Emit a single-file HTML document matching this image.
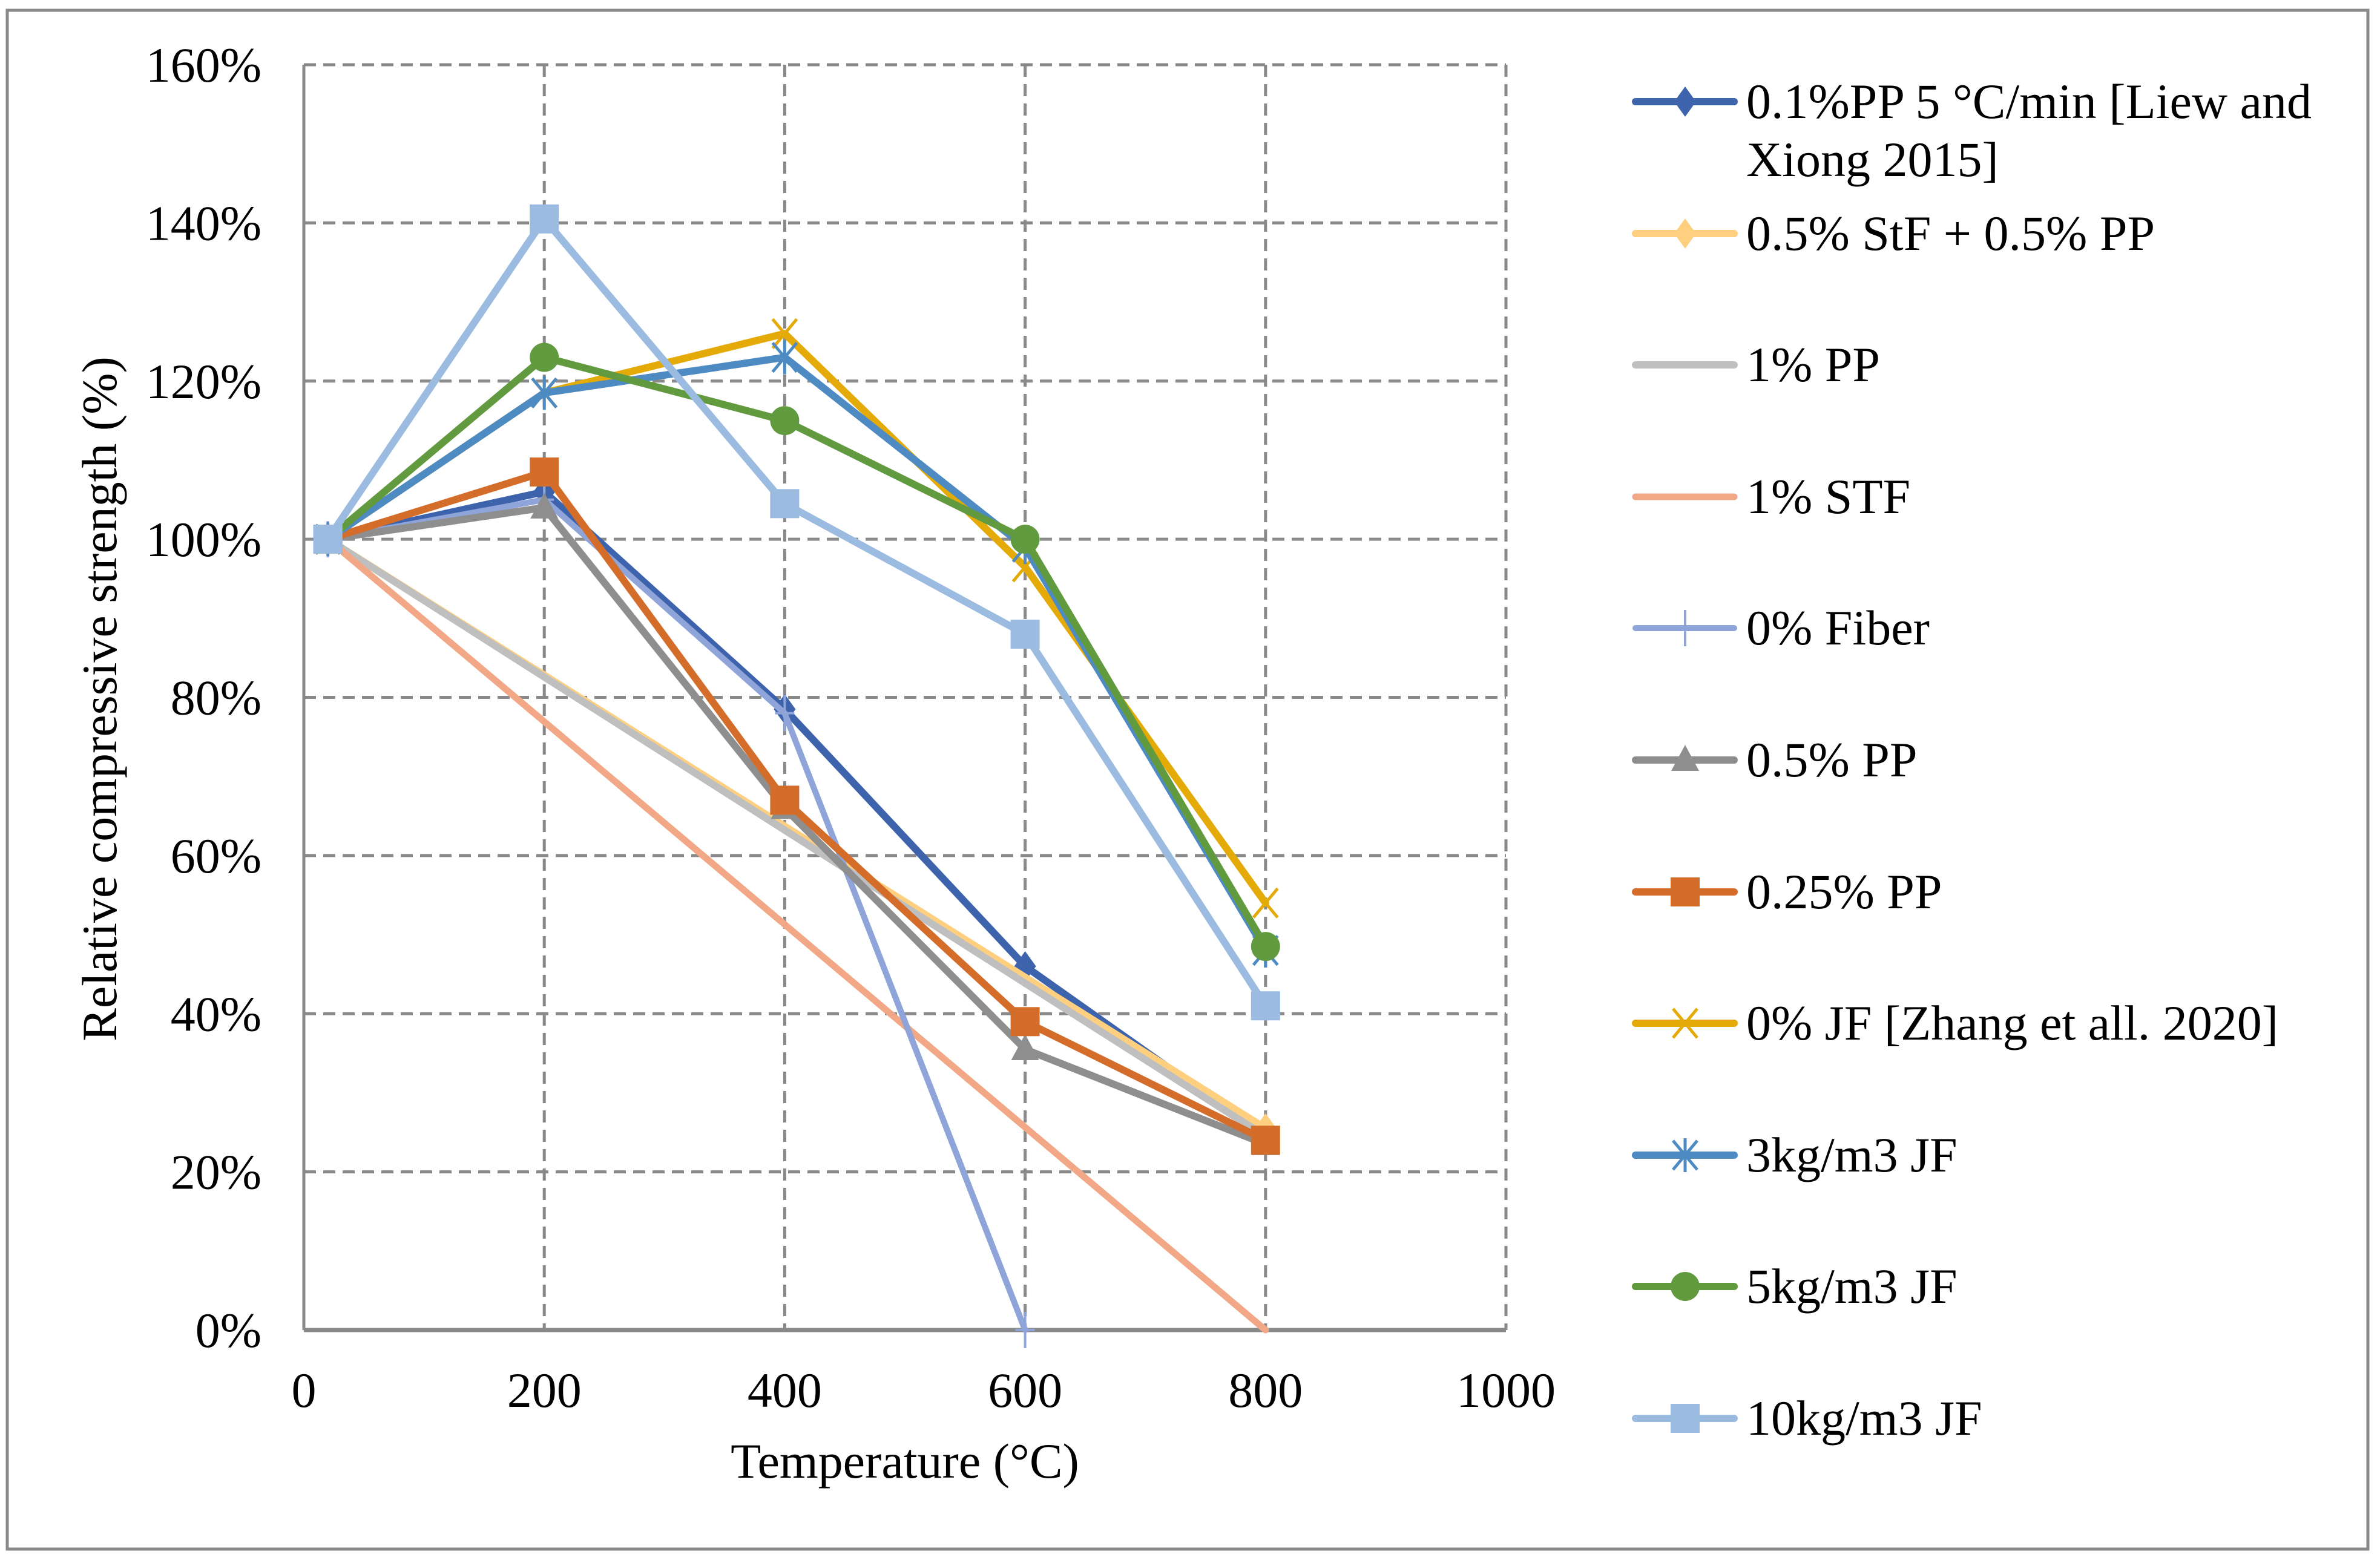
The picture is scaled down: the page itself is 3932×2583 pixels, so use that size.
<!DOCTYPE html>
<html><head><meta charset="utf-8"><style>
html,body{margin:0;padding:0;background:#fff;}
svg{display:block;font-family:"Liberation Serif","Times New Roman",serif;}
</style></head><body>
<svg id="chart" xmlns="http://www.w3.org/2000/svg" width="3932" height="2583" viewBox="0 0 3932 2583">
<rect x="12" y="17" width="3900" height="2543" fill="#fff" stroke="#898989" stroke-width="5"/>
<g id="grid"></g>
<g id="axes"></g>
<g id="series"></g>
<g id="legend"></g>
<text x="1495" y="2442" font-size="82" text-anchor="middle">Temperature (°C)</text>
<text transform="translate(192,1155) rotate(-90)" font-size="82" text-anchor="middle">Relative compressive strength (%)</text>
</svg>
<script>
const xTicks = [0, 200, 400, 600, 800, 1000];
const yTicks = [0, 20, 40, 60, 80, 100, 120, 140, 160];
const seriesNames = ["0.1%PP 5 °C/min [Liew and Xiong 2015]", "0.5% StF + 0.5% PP", "1% PP", "1% STF", "0% Fiber", "0.5% PP", "0.25% PP", "0% JF [Zhang et all. 2020]", "3kg/m3 JF", "5kg/m3 JF", "10kg/m3 JF"];
const tempsFull = [20, 200, 400, 600, 800];
const tempsEnds = [20, 800];
const tempsFiber = [20, 200, 400, 600];
const tempsStf = [20, 800];
const s01PP = [100, 106, 78.5, 46, 24.5];
const sStfPP = [100, 25.5];
const s1PP = [100, 24.5];
const s1STF = [100, 0];
const s0Fiber = [100, 105, 78, 0];
const s05PP = [100, 104, 66, 35.5, 23.5];
const s025PP = [100, 108.5, 67, 39, 24];
const s0JF = [100, 118.5, 126, 96.5, 54];
const s3JF = [100, 118.5, 123, 99, 48];
const s5JF = [100, 123, 115, 100, 48.5];
const s10JF = [100, 140.5, 104.5, 88, 41];

const NS = "http://www.w3.org/2000/svg";
const X0 = 502, X1 = 2488, Y0 = 2198, Y1 = 107;
function xs(v){ return X0 + (v/1000)*(X1-X0); }
function ys(v){ return Y0 - (v/160)*(Y0-Y1); }
function mk(tag, attrs, parent){ const e=document.createElementNS(NS,tag); for(const k in attrs) e.setAttribute(k,attrs[k]); parent.appendChild(e); return e; }

const grid=document.getElementById('grid'), axes=document.getElementById('axes'), ser=document.getElementById('series'), leg=document.getElementById('legend');
yTicks.forEach(t=>{
  if(t>0){ const l=mk('line',{x1:X0,x2:X1,y1:ys(t),y2:ys(t),stroke:'#898989','stroke-width':5,'stroke-dasharray':'20,12'},grid);
    
     }
  const tx=mk('text',{x:432,y:ys(t)+28,'font-size':82,'text-anchor':'end'},axes);
  tx.textContent=t+'%';
  
  
});
xTicks.forEach(t=>{
  if(t>0){ const l=mk('line',{x1:xs(t),x2:xs(t),y1:Y1,y2:Y0,stroke:'#898989','stroke-width':5,'stroke-dasharray':'20,12'},grid);
    
     }
  const tx=mk('text',{x:xs(t),y:2325,'font-size':82,'text-anchor':'middle'},axes);
  tx.textContent=t;
  
  
});
const ya=mk('line',{x1:X0,x2:X0,y1:Y1,y2:Y0,stroke:'#898989','stroke-width':5},axes);


const xa=mk('line',{x1:X0,x2:X1,y1:Y0,y2:Y0,stroke:'#898989','stroke-width':7},axes);



function marker(type,x,y,color,g){
  let e;
  if(type==='diamond') e=mk('polygon',{points:`${x},${y-25} ${x+18},${y} ${x},${y+25} ${x-18},${y}`,fill:color},g);
  else if(type==='square') e=mk('rect',{x:x-24,y:y-24,width:48,height:48,fill:color},g);
  else if(type==='circle') e=mk('circle',{cx:x,cy:y,r:24,fill:color},g);
  else if(type==='triangle') e=mk('polygon',{points:`${x},${y-25} ${x+23},${y+18} ${x-23},${y+18}`,fill:color},g);
  else if(type==='x') e=mk('path',{d:`M${x-20},${y-24}L${x+20},${y+24}M${x+20},${y-24}L${x-20},${y+24}`,stroke:color,'stroke-width':5,fill:'none'},g);
  else if(type==='star') e=mk('path',{d:`M${x-20},${y-24}L${x+20},${y+24}M${x+20},${y-24}L${x-20},${y+24}M${x},${y-28}L${x},${y+28}`,stroke:color,'stroke-width':5,fill:'none'},g);
  else if(type==='plus') e=mk('path',{d:`M${x},${y-30}L${x},${y+30}M${x-16},${y}L${x+16},${y}`,stroke:color,'stroke-width':4,fill:'none'},g);
  else return;
  
  
}

const defs=[
 {t:tempsFull,v:s01PP,c:'#3E63AD',m:'diamond',w:12},
 {t:tempsStf,v:sStfPP,c:'#FFCF80',m:'diamond',w:12},
 {t:tempsEnds,v:s1PP,c:'#BFBFBF',m:'none',w:12},
 {t:tempsStf,v:s1STF,c:'#F2A886',m:'none',w:11},
 {t:tempsFiber,v:s0Fiber,c:'#8FA4D8',m:'plus',w:10},
 {t:tempsFull,v:s05PP,c:'#8E8E8E',m:'triangle',w:12},
 {t:tempsFull,v:s025PP,c:'#D46D2A',m:'square',w:12},
 {t:tempsFull,v:s0JF,c:'#E3AA08',m:'x',w:12},
 {t:tempsFull,v:s3JF,c:'#4E8BC2',m:'star',w:12},
 {t:tempsFull,v:s5JF,c:'#629B3F',m:'circle',w:12},
 {t:tempsFull,v:s10JF,c:'#9BBBE1',m:'square',w:12}
];
const slugs=['pp01-liew','stf05-pp05','pp1','stf1','fiber0','pp05','pp025','jf0-zhang','jf3','jf5','jf10'];
defs.forEach((d,i)=>{
  const g=mk('g',{},ser);
  
  
  const pts=d.t.map((t,j)=>xs(t)+','+ys(d.v[j])).join(' ');
  const pl=mk('polyline',{points:pts,fill:'none',stroke:d.c,'stroke-width':d.w,'stroke-linejoin':'round','stroke-linecap':'round'},g);
  
  
  d.t.forEach((t,j)=>marker(d.m,xs(t),ys(d.v[j]),d.c,g));
});

const legY=[168,386,603,821,1038,1256,1474,1691,1909,2126,2344];
defs.forEach((d,i)=>{
  const g=mk('g',{},leg);
  
  
  const y=legY[i];
  const l=mk('line',{x1:2702,x2:2865,y1:y,y2:y,stroke:d.c,'stroke-width':d.w,'stroke-linecap':'round'},g);
  
  
  marker(d.m,2784,y,d.c,g);
  const tx=mk('text',{x:2885,y:y+27,'font-size':82},g);
  
  
  if(i===0){
    const a=mk('tspan',{x:2885},tx); a.textContent='0.1%PP 5 °C/min [Liew and';
    const b=mk('tspan',{x:2885,dy:96},tx); b.textContent='Xiong 2015]';
  } else tx.textContent=seriesNames[i];
});
</script>
</body></html>
